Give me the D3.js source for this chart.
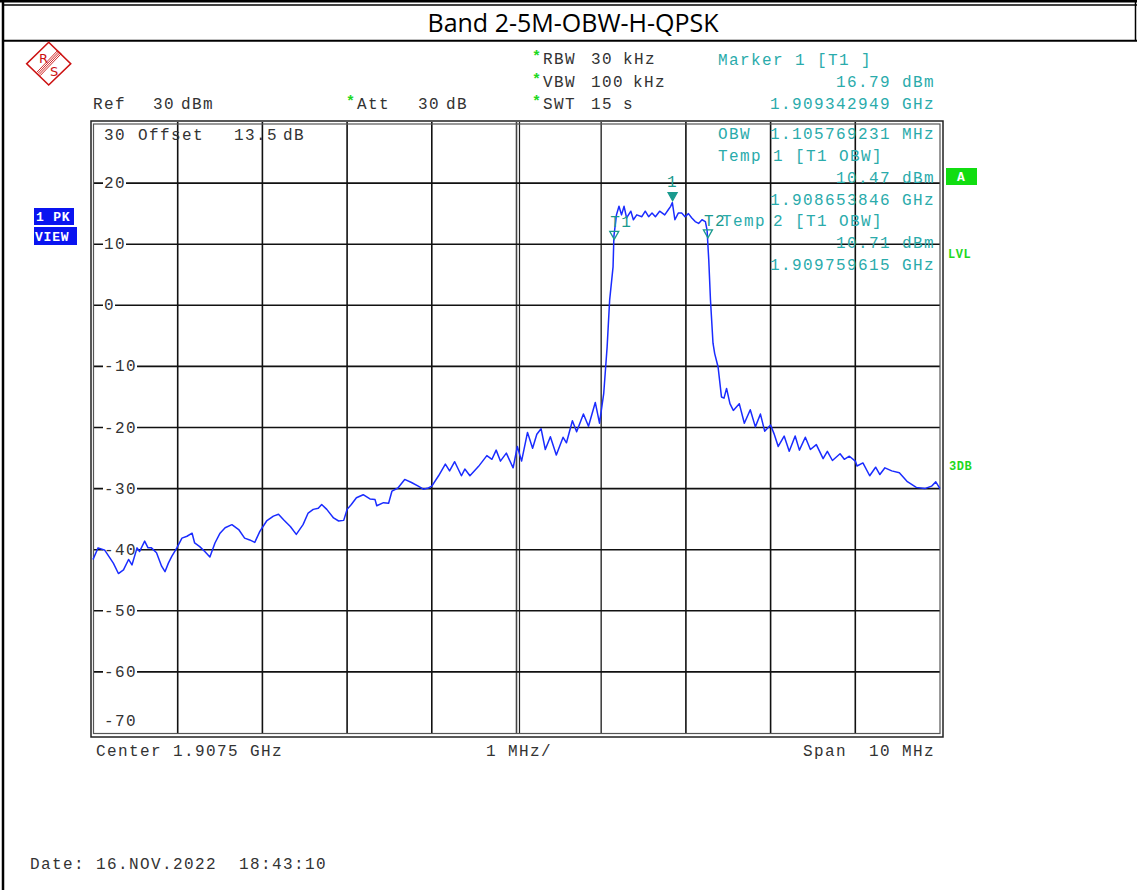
<!DOCTYPE html>
<html>
<head>
<meta charset="utf-8">
<script src="https://cdn.jsdelivr.net/npm/d3@7"></script>
<style>
    body { margin: 0; background: #fff; }
    .mono { font-family: "Liberation Mono", "Courier New", monospace; font-size: 16px; letter-spacing: 1.4px; white-space: pre; }
    .gray { fill: #333; }
    .cyan { fill: #2aabab; }
    .green { fill: #1ed81e; }
    .star { font-size: 15px; font-weight: bold; letter-spacing: 0; }
</style>
</head>
<body>
<div id="chartContainer"></div>
<script>
/***** Data */

// trace: frequency offset from center (MHz) and level (dBm)
const traceFreqMHz = [
    -5.00, -4.94, -4.86, -4.76, -4.70, -4.64, -4.58, -4.54, -4.48, -4.45,
    -4.39, -4.35, -4.31, -4.25, -4.19, -4.15, -4.11, -4.07, -4.01, -3.95,
    -3.89, -3.83, -3.80, -3.74, -3.68, -3.62, -3.56, -3.50, -3.44, -3.36,
    -3.28, -3.21, -3.15, -3.09, -3.03, -2.95, -2.87, -2.81, -2.75, -2.67,
    -2.60, -2.52, -2.46, -2.40, -2.34, -2.30, -2.24, -2.16, -2.10, -2.04,
    -2.00, -1.95, -1.89, -1.81, -1.73, -1.67, -1.65, -1.57, -1.51, -1.47,
    -1.40, -1.32, -1.24, -1.16, -1.10, -1.04, -1.00, -0.92, -0.84, -0.79,
    -0.73, -0.65, -0.61, -0.55, -0.45, -0.35, -0.29, -0.24, -0.19, -0.12,
    -0.04, 0.01, 0.06, 0.13, 0.19, 0.24, 0.29, 0.34, 0.40, 0.47,
    0.55, 0.59, 0.66, 0.71, 0.79, 0.85, 0.93, 0.98, 1.03, 1.07,
    1.10, 1.14, 1.15, 1.18, 1.21, 1.24, 1.27, 1.30, 1.35, 1.38,
    1.42, 1.48, 1.52, 1.56, 1.60, 1.64, 1.69, 1.75, 1.79, 1.82,
    1.84, 1.87, 1.91, 1.95, 1.99, 2.03, 2.07, 2.11, 2.15, 2.19,
    2.23, 2.25, 2.27, 2.29, 2.32, 2.34, 2.38, 2.42, 2.45, 2.48,
    2.52, 2.56, 2.63, 2.69, 2.76, 2.82, 2.88, 2.93, 3.00, 3.04,
    3.09, 3.16, 3.22, 3.29, 3.34, 3.41, 3.47, 3.54, 3.62, 3.67,
    3.73, 3.82, 3.87, 3.93, 4.00, 4.02, 4.09, 4.17, 4.24, 4.29,
    4.35, 4.43, 4.52, 4.61, 4.72, 4.82, 4.90, 4.95, 5.00
];
const traceLevelDbm = [
    -41.6, -39.7, -40.1, -42.2, -43.9, -43.3, -41.6, -42.5, -39.7, -40.3,
    -38.6, -39.7, -39.7, -40.5, -42.7, -43.6, -42.2, -41.1, -39.7, -38.1,
    -37.8, -37.3, -38.9, -39.5, -40.3, -41.2, -38.9, -37.3, -36.4, -35.9,
    -36.7, -38.1, -38.4, -38.8, -37.0, -35.3, -34.5, -34.2, -35.1, -36.2,
    -37.5, -35.9, -34.0, -33.4, -33.2, -32.6, -33.4, -34.8, -35.3, -35.2,
    -33.4, -32.6, -31.5, -31.0, -31.7, -31.8, -32.8, -32.3, -32.4, -30.4,
    -29.9, -28.5, -29.0, -29.6, -30.1, -29.9, -29.6, -27.9, -26.0, -27.1,
    -25.6, -27.9, -26.8, -27.9, -26.4, -24.6, -25.2, -23.7, -25.5, -24.2,
    -26.6, -23.1, -25.5, -20.8, -23.4, -21.1, -20.2, -23.6, -21.5, -24.5,
    -21.6, -22.5, -18.9, -20.7, -17.8, -19.8, -15.9, -19.3, -14.4, -6.8,
    0.9, 6.3, 11.3, 14.8, 16.2, 14.8, 16.2, 14.3, 15.4, 14.0,
    14.8, 14.5, 15.4, 14.5, 15.1, 14.5, 15.4, 14.8, 15.6, 16.2,
    16.8, 14.0, 15.1, 15.1, 14.5, 15.0, 14.3, 13.7, 13.4, 14.0,
    13.7, 12.3, 7.4, 0.9, -6.2, -7.9, -10.1, -15.0, -15.2, -13.6,
    -16.1, -17.2, -16.1, -19.3, -17.1, -19.9, -17.8, -20.6, -19.6, -21.0,
    -23.1, -21.4, -23.9, -21.4, -23.7, -21.6, -23.6, -22.8, -25.1, -23.9,
    -25.4, -24.3, -25.2, -24.7, -25.5, -26.3, -25.8, -27.9, -26.5, -27.7,
    -26.6, -27.1, -27.4, -28.8, -29.8, -30.0, -29.6, -28.9, -30.0
];

// axis settings
const levelDomain = [-70, 30];
const freqDomainMHz = [-5, 5];
const levelTicks = [20, 10, 0, -10, -20, -30, -40, -50, -60];
const freqGridMHz = [-4, -3, -2, -1, 0, 1, 2, 3, 4];

// markers
const markerNames = ['1', 'T1', 'T2'];
const markerFreqMHz = [1.843, 1.154, 2.260];
const markerLevelDbm = [16.79, 10.47, 10.71];
const markerFilled = [true, false, false];

/***** Drawing */

const width = 1137;
const height = 890;
const plot = { left: 93, right: 940, top: 122, bottom: 733 };

const svg = d3.select('#chartContainer').append('svg')
    .attr('width', width)
    .attr('height', height)
    .style('display', 'block');

const x = d3.scaleLinear().domain(freqDomainMHz).range([plot.left, plot.right]);
const y = d3.scaleLinear().domain(levelDomain).range([plot.bottom, plot.top]);

const addText = (px, py, str, cls, anchor = 'start') => {
    return svg.append('text')
        .attr('x', px)
        .attr('y', py)
        .attr('class', cls)
        .attr('text-anchor', anchor)
        .text(str);
};

// page frame and title
svg.append('line').attr('x1', 0).attr('x2', width).attr('y1', 1.2).attr('y2', 1.2)
    .attr('stroke', '#000').attr('stroke-width', 2.5);
svg.append('line').attr('x1', 2).attr('x2', width).attr('y1', 5).attr('y2', 5)
    .attr('stroke', '#000').attr('stroke-width', 1.5);
svg.append('line').attr('x1', 3).attr('x2', width).attr('y1', 40.8).attr('y2', 40.8)
    .attr('stroke', '#000').attr('stroke-width', 2);
svg.append('line').attr('x1', 3).attr('x2', 3).attr('y1', 0).attr('y2', height)
    .attr('stroke', '#000').attr('stroke-width', 2.5);
svg.append('line').attr('x1', 1135.5).attr('x2', 1135.5).attr('y1', 0).attr('y2', 41)
    .attr('stroke', '#000').attr('stroke-width', 1.5);
svg.append('text')
    .attr('x', 573).attr('y', 32)
    .attr('text-anchor', 'middle')
    .style('font-family', '"Open Sans", "Noto Sans", sans-serif')
    .style('font-size', '25px')
    .attr('fill', '#000')
    .text('Band 2-5M-OBW-H-QPSK');

// R&S logo
const logo = svg.append('g').attr('stroke', '#cc1111').attr('fill', 'none');
logo.append('polygon')
    .attr('points', '48.7,42.3 70.7,63.7 48.7,85 26.7,63.7')
    .attr('stroke-width', 1.6);
[-2.4, -0.8, 0.8, 2.4].forEach((off) => {
    logo.append('line')
        .attr('x1', 59.5 + off * 0.72).attr('y1', 52 + off * 0.69)
        .attr('x2', 38.5 + off * 0.72).attr('y2', 74 + off * 0.69)
        .attr('stroke-width', 0.9);
});
svg.append('text').attr('x', 39).attr('y', 63).attr('fill', '#cc1111')
    .style('font-family', '"DejaVu Sans", sans-serif').style('font-size', '13px').text('R');
svg.append('text').attr('x', 50).attr('y', 76).attr('fill', '#cc1111')
    .style('font-family', '"DejaVu Sans", sans-serif').style('font-size', '13px').text('S');

// settings header
addText(93, 109, 'Ref', 'mono gray');
addText(153, 109, '30', 'mono gray');
addText(181, 109, 'dBm', 'mono gray');
addText(346, 106, '*', 'mono green star');
addText(357, 109, 'Att', 'mono gray');
addText(418, 109, '30', 'mono gray');
addText(446, 109, 'dB', 'mono gray');

const settingRows = [['RBW', '30', 'kHz', 623], ['VBW', '100', 'kHz', 633], ['SWT', '15', 's', 623]];
settingRows.forEach((row, i) => {
    const py = 64 + i * 22.5;
    addText(532, py - 3, '*', 'mono green star');
    addText(543, py, row[0], 'mono gray');
    addText(591, py, row[1], 'mono gray');
    addText(row[3], py, row[2], 'mono gray');
});

// grid
const grid = svg.append('g');
grid.selectAll('.vGrid')
    .data(freqGridMHz)
    .enter()
    .append('line')
    .attr('class', 'vGrid')
    .attr('x1', d => x(d)).attr('x2', d => x(d))
    .attr('y1', plot.top).attr('y2', plot.bottom)
    .attr('stroke', d => (d === 0 || d === 1) ? '#444' : '#111')
    .attr('stroke-width', 1.6);
grid.append('line')
    .attr('x1', x(0) + 3).attr('x2', x(0) + 3)
    .attr('y1', plot.top).attr('y2', plot.bottom)
    .attr('stroke', '#222').attr('stroke-width', 1.2);
grid.selectAll('.hGrid')
    .data(levelTicks)
    .enter()
    .append('line')
    .attr('class', 'hGrid')
    .attr('x1', plot.left).attr('x2', plot.right)
    .attr('y1', d => y(d)).attr('y2', d => y(d))
    .attr('stroke', '#111')
    .attr('stroke-width', 1.6);

// plot frame (double line)
svg.append('rect')
    .attr('x', plot.left - 2).attr('y', plot.top - 1)
    .attr('width', plot.right - plot.left + 5).attr('height', plot.bottom - plot.top + 5)
    .attr('fill', 'none').attr('stroke', '#222').attr('stroke-width', 1.5);
svg.append('rect')
    .attr('x', plot.left + 0.5).attr('y', plot.top + 2)
    .attr('width', plot.right - plot.left - 0.5).attr('height', plot.bottom - plot.top - 1.5)
    .attr('fill', 'none').attr('stroke', '#555').attr('stroke-width', 1.2);

// level labels with white backing over the grid line
const labelGroup = svg.append('g');
levelTicks.forEach((tick) => {
    const label = labelGroup.append('text')
        .attr('x', 104).attr('y', y(tick) + 5)
        .attr('class', 'mono gray')
        .text(tick);
    const w = label.node().getComputedTextLength();
    labelGroup.insert('rect', 'text')
        .attr('x', 103).attr('y', y(tick) - 6)
        .attr('width', w + 1).attr('height', 12)
        .attr('fill', '#fff');
});
addText(104, 726, '-70', 'mono gray');
addText(104, 140, '30', 'mono gray');
addText(138, 140, 'Offset', 'mono gray');
addText(234, 140, '13.5', 'mono gray');
addText(283, 140, 'dB', 'mono gray');

// marker info
addText(718, 65, 'Marker 1 [T1 ]', 'mono cyan');
addText(935, 87, '16.79 dBm', 'mono cyan', 'end');
addText(935, 109, '1.909342949 GHz', 'mono cyan', 'end');
addText(718, 139, 'OBW', 'mono cyan');
addText(935, 139, '1.105769231 MHz', 'mono cyan', 'end');
addText(718, 161, 'Temp', 'mono cyan');
addText(773, 161, '1 [T1 OBW]', 'mono cyan');
addText(935, 183, '10.47 dBm', 'mono cyan', 'end');
addText(935, 205, '1.908653846 GHz', 'mono cyan', 'end');
addText(722, 226, 'Temp', 'mono cyan');
addText(773, 226, '2 [T1 OBW]', 'mono cyan');
addText(935, 248, '10.71 dBm', 'mono cyan', 'end');
addText(935, 270, '1.909759615 GHz', 'mono cyan', 'end');

// trace
const tracePoints = traceFreqMHz.map((f, i) => [f, traceLevelDbm[i]]);
const traceLine = d3.line()
    .x(d => x(d[0]))
    .y(d => y(d[1]));
svg.append('path')
    .datum(tracePoints)
    .attr('d', traceLine)
    .attr('fill', 'none')
    .attr('stroke', '#1a2cff')
    .attr('stroke-width', 1.5)
    .attr('stroke-linejoin', 'round');

// markers
markerNames.forEach((name, i) => {
    const mx = x(markerFreqMHz[i]);
    const my = y(markerLevelDbm[i]);
    const top = my - 10;
    svg.append('polygon')
        .attr('points', `${mx - 4.5},${top} ${mx + 4.5},${top} ${mx},${top + 8}`)
        .attr('fill', markerFilled[i] ? '#1a9a8e' : 'none')
        .attr('stroke', '#1a9a8e')
        .attr('stroke-width', 1.3);
    if (markerFilled[i]) {
        addText(mx, my - 16, name, 'mono cyan', 'middle').style('fill', '#1a9a8e');
    } else {
        addText(mx - 4, my - 14, name, 'mono cyan').style('fill', '#1a9a8e');
    }
});

// side annotations
svg.append('rect').attr('x', 34).attr('y', 208).attr('width', 40).attr('height', 17).attr('fill', '#0a14f0');
svg.append('rect').attr('x', 34).attr('y', 227).attr('width', 43).attr('height', 18).attr('fill', '#0a14f0');
addText(36, 221, '1 PK', 'mono').style('fill', '#fff').style('font-weight', 'bold').style('font-size', '13px').style('letter-spacing', '0.8px');
addText(35, 241, 'VIEW', 'mono').style('fill', '#fff').style('font-weight', 'bold').style('font-size', '13px').style('letter-spacing', '0.8px');

svg.append('rect').attr('x', 946).attr('y', 168).attr('width', 31).attr('height', 17).attr('fill', '#11dd11');
addText(961.5, 181, 'A', 'mono', 'middle').style('fill', '#fff').style('font-weight', 'bold').style('font-size', '13px');
addText(948, 258, 'LVL', 'mono green').style('font-weight', 'bold').style('font-size', '12px').style('letter-spacing', '0.5px');
addText(949, 470, '3DB', 'mono green').style('font-weight', 'bold').style('font-size', '12px').style('letter-spacing', '0.5px');

// footer
addText(96, 756, 'Center 1.9075 GHz', 'mono gray');
addText(486, 756, '1 MHz/', 'mono gray');
addText(935, 756, 'Span  10 MHz', 'mono gray', 'end');
addText(30, 869, 'Date: 16.NOV.2022  18:43:10', 'mono gray');
</script>
</body>
</html>
